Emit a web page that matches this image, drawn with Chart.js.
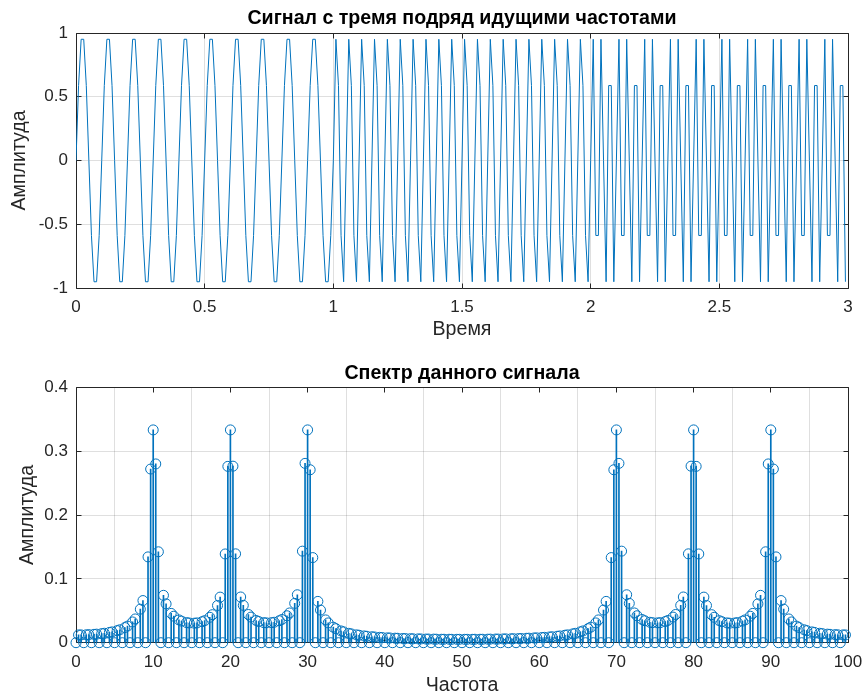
<!DOCTYPE html>
<html><head><meta charset="utf-8">
<script src="https://cdn.jsdelivr.net/npm/chart.js@4.4.1/dist/chart.umd.min.js"></script>
<style>
html,body{margin:0;padding:0;background:#fff;overflow:hidden;width:865px;height:696px;position:relative}
#c1{position:absolute;left:0;top:0}
#c2{position:absolute;left:0;top:345px}
</style></head><body>
<canvas id="c1" width="865" height="345"></canvas>
<canvas id="c2" width="865" height="360"></canvas>
<script>
// ---------- data ----------
const titleTop = 'Сигнал с тремя подряд идущими частотами';
const titleBottom = 'Спектр данного сигнала';
const xLabelTop = 'Время';
const xLabelBottom = 'Частота';
const yLabel = 'Амплитуда';

const timeTicks = [0, 0.5, 1, 1.5, 2, 2.5, 3];
const ampTicks = [-1, -0.5, 0, 0.5, 1];
const freqTicks = [0, 10, 20, 30, 40, 50, 60, 70, 80, 90, 100];
const specTicks = [0, 0.1, 0.2, 0.3, 0.4];

const timeSec = [
0,0.01,0.02,0.03,0.04,0.05,0.06,0.07,0.08,0.09,
0.1,0.11,0.12,0.13,0.14,0.15,0.16,0.17,0.18,0.19,
0.2,0.21,0.22,0.23,0.24,0.25,0.26,0.27,0.28,0.29,
0.3,0.31,0.32,0.33,0.34,0.35,0.36,0.37,0.38,0.39,
0.4,0.41,0.42,0.43,0.44,0.45,0.46,0.47,0.48,0.49,
0.5,0.51,0.52,0.53,0.54,0.55,0.56,0.57,0.58,0.59,
0.6,0.61,0.62,0.63,0.64,0.65,0.66,0.67,0.68,0.69,
0.7,0.71,0.72,0.73,0.74,0.75,0.76,0.77,0.78,0.79,
0.8,0.81,0.82,0.83,0.84,0.85,0.86,0.87,0.88,0.89,
0.9,0.91,0.92,0.93,0.94,0.95,0.96,0.97,0.98,0.99,
1,1.01,1.02,1.03,1.04,1.05,1.06,1.07,1.08,1.09,
1.1,1.11,1.12,1.13,1.14,1.15,1.16,1.17,1.18,1.19,
1.2,1.21,1.22,1.23,1.24,1.25,1.26,1.27,1.28,1.29,
1.3,1.31,1.32,1.33,1.34,1.35,1.36,1.37,1.38,1.39,
1.4,1.41,1.42,1.43,1.44,1.45,1.46,1.47,1.48,1.49,
1.5,1.51,1.52,1.53,1.54,1.55,1.56,1.57,1.58,1.59,
1.6,1.61,1.62,1.63,1.64,1.65,1.66,1.67,1.68,1.69,
1.7,1.71,1.72,1.73,1.74,1.75,1.76,1.77,1.78,1.79,
1.8,1.81,1.82,1.83,1.84,1.85,1.86,1.87,1.88,1.89,
1.9,1.91,1.92,1.93,1.94,1.95,1.96,1.97,1.98,1.99,
2,2.01,2.02,2.03,2.04,2.05,2.06,2.07,2.08,2.09,
2.1,2.11,2.12,2.13,2.14,2.15,2.16,2.17,2.18,2.19,
2.2,2.21,2.22,2.23,2.24,2.25,2.26,2.27,2.28,2.29,
2.3,2.31,2.32,2.33,2.34,2.35,2.36,2.37,2.38,2.39,
2.4,2.41,2.42,2.43,2.44,2.45,2.46,2.47,2.48,2.49,
2.5,2.51,2.52,2.53,2.54,2.55,2.56,2.57,2.58,2.59,
2.6,2.61,2.62,2.63,2.64,2.65,2.66,2.67,2.68,2.69,
2.7,2.71,2.72,2.73,2.74,2.75,2.76,2.77,2.78,2.79,
2.8,2.81,2.82,2.83,2.84,2.85,2.86,2.87,2.88,2.89,
2.9,2.91,2.92,2.93,2.94,2.95,2.96,2.97,2.98,2.99
];

const signal = [
0,0.588,0.951,0.951,0.588,0,-0.588,-0.951,-0.951,-0.588,
0,0.588,0.951,0.951,0.588,0,-0.588,-0.951,-0.951,-0.588,
0,0.588,0.951,0.951,0.588,0,-0.588,-0.951,-0.951,-0.588,
0,0.588,0.951,0.951,0.588,0,-0.588,-0.951,-0.951,-0.588,
0,0.588,0.951,0.951,0.588,0,-0.588,-0.951,-0.951,-0.588,
0,0.588,0.951,0.951,0.588,0,-0.588,-0.951,-0.951,-0.588,
0,0.588,0.951,0.951,0.588,0,-0.588,-0.951,-0.951,-0.588,
0,0.588,0.951,0.951,0.588,0,-0.588,-0.951,-0.951,-0.588,
0,0.588,0.951,0.951,0.588,0,-0.588,-0.951,-0.951,-0.588,
0,0.588,0.951,0.951,0.588,0,-0.588,-0.951,-0.951,-0.588,
0,0.951,0.588,-0.588,-0.951,0,0.951,0.588,-0.588,-0.951,
0,0.951,0.588,-0.588,-0.951,0,0.951,0.588,-0.588,-0.951,
0,0.951,0.588,-0.588,-0.951,0,0.951,0.588,-0.588,-0.951,
0,0.951,0.588,-0.588,-0.951,0,0.951,0.588,-0.588,-0.951,
0,0.951,0.588,-0.588,-0.951,0,0.951,0.588,-0.588,-0.951,
0,0.951,0.588,-0.588,-0.951,0,0.951,0.588,-0.588,-0.951,
0,0.951,0.588,-0.588,-0.951,0,0.951,0.588,-0.588,-0.951,
0,0.951,0.588,-0.588,-0.951,0,0.951,0.588,-0.588,-0.951,
0,0.951,0.588,-0.588,-0.951,0,0.951,0.588,-0.588,-0.951,
0,0.951,0.588,-0.588,-0.951,0,0.951,0.588,-0.588,-0.951,
0,0.951,-0.588,-0.588,0.951,0,-0.951,0.588,0.588,-0.951,
0,0.951,-0.588,-0.588,0.951,0,-0.951,0.588,0.588,-0.951,
0,0.951,-0.588,-0.588,0.951,0,-0.951,0.588,0.588,-0.951,
0,0.951,-0.588,-0.588,0.951,0,-0.951,0.588,0.588,-0.951,
0,0.951,-0.588,-0.588,0.951,0,-0.951,0.588,0.588,-0.951,
0,0.951,-0.588,-0.588,0.951,0,-0.951,0.588,0.588,-0.951,
0,0.951,-0.588,-0.588,0.951,0,-0.951,0.588,0.588,-0.951,
0,0.951,-0.588,-0.588,0.951,0,-0.951,0.588,0.588,-0.951,
0,0.951,-0.588,-0.588,0.951,0,-0.951,0.588,0.588,-0.951,
0,0.951,-0.588,-0.588,0.951,0,-0.951,0.588,0.588,-0.951
];

const freqHz = [
0,0.33,0.67,1,1.33,1.67,2,2.33,2.67,3,3.33,3.67,4,4.33,4.67,
5,5.33,5.67,6,6.33,6.67,7,7.33,7.67,8,8.33,8.67,9,9.33,9.67,
10,10.33,10.67,11,11.33,11.67,12,12.33,12.67,13,13.33,13.67,14,14.33,14.67,
15,15.33,15.67,16,16.33,16.67,17,17.33,17.67,18,18.33,18.67,19,19.33,19.67,
20,20.33,20.67,21,21.33,21.67,22,22.33,22.67,23,23.33,23.67,24,24.33,24.67,
25,25.33,25.67,26,26.33,26.67,27,27.33,27.67,28,28.33,28.67,29,29.33,29.67,
30,30.33,30.67,31,31.33,31.67,32,32.33,32.67,33,33.33,33.67,34,34.33,34.67,
35,35.33,35.67,36,36.33,36.67,37,37.33,37.67,38,38.33,38.67,39,39.33,39.67,
40,40.33,40.67,41,41.33,41.67,42,42.33,42.67,43,43.33,43.67,44,44.33,44.67,
45,45.33,45.67,46,46.33,46.67,47,47.33,47.67,48,48.33,48.67,49,49.33,49.67,
50,50.33,50.67,51,51.33,51.67,52,52.33,52.67,53,53.33,53.67,54,54.33,54.67,
55,55.33,55.67,56,56.33,56.67,57,57.33,57.67,58,58.33,58.67,59,59.33,59.67,
60,60.33,60.67,61,61.33,61.67,62,62.33,62.67,63,63.33,63.67,64,64.33,64.67,
65,65.33,65.67,66,66.33,66.67,67,67.33,67.67,68,68.33,68.67,69,69.33,69.67,
70,70.33,70.67,71,71.33,71.67,72,72.33,72.67,73,73.33,73.67,74,74.33,74.67,
75,75.33,75.67,76,76.33,76.67,77,77.33,77.67,78,78.33,78.67,79,79.33,79.67,
80,80.33,80.67,81,81.33,81.67,82,82.33,82.67,83,83.33,83.67,84,84.33,84.67,
85,85.33,85.67,86,86.33,86.67,87,87.33,87.67,88,88.33,88.67,89,89.33,89.67,
90,90.33,90.67,91,91.33,91.67,92,92.33,92.67,93,93.33,93.67,94,94.33,94.67,
95,95.33,95.67,96,96.33,96.67,97,97.33,97.67,98,98.33,98.67,99,99.33,99.67
];

const spectrum = [
0,0.0122,0.0122,0,0.0124,0.0126,0,0.0131,0.0134,0,0.0142,0.0148,0,0.0161,0.0169,
0,0.0189,0.0202,0,0.0237,0.0260,0,0.0325,0.0372,0,0.0525,0.0660,0,0.1344,0.2720,
0.3333,0.2800,0.1424,0,0.0742,0.0608,0,0.0459,0.0415,0,0.0357,0.0338,0,0.0315,0.0309,
0,0.0306,0.0310,0,0.0329,0.0345,0,0.0398,0.0439,0,0.0583,0.0714,0,0.1390,0.2762,
0.3333,0.2765,0.1392,0,0.0716,0.0585,0,0.0442,0.0401,0,0.0348,0.0332,0,0.0314,0.0311,
0,0.0314,0.0320,0,0.0344,0.0363,0,0.0422,0.0466,0,0.0616,0.0751,0,0.1434,0.2809,
0.3333,0.2709,0.1333,0,0.0647,0.0511,0,0.0357,0.0310,0,0.0243,0.0220,0,0.0184,0.0170,
0,0.0147,0.0138,0,0.0123,0.0117,0,0.0106,0.0101,0,0.0093,0.0090,0,0.0084,0.0081,
0,0.0076,0.0074,0,0.0071,0.0069,0,0.0066,0.0065,0,0.0063,0.0061,0,0.0060,0.0059,
0,0.0057,0.0057,0,0.0056,0.0055,0,0.0054,0.0054,0,0.0054,0.0053,0,0.0053,0.0053,
0,0.0053,0.0053,0,0.0053,0.0054,0,0.0054,0.0054,0,0.0055,0.0056,0,0.0057,0.0057,
0,0.0059,0.0060,0,0.0061,0.0063,0,0.0065,0.0066,0,0.0069,0.0071,0,0.0074,0.0076,
0,0.0081,0.0084,0,0.0090,0.0093,0,0.0101,0.0106,0,0.0117,0.0123,0,0.0138,0.0147,
0,0.0170,0.0184,0,0.0220,0.0243,0,0.0310,0.0357,0,0.0511,0.0647,0,0.1333,0.2709,
0.3333,0.2809,0.1434,0,0.0751,0.0616,0,0.0466,0.0422,0,0.0363,0.0344,0,0.0320,0.0314,
0,0.0311,0.0314,0,0.0332,0.0348,0,0.0401,0.0442,0,0.0585,0.0716,0,0.1392,0.2765,
0.3333,0.2762,0.1390,0,0.0714,0.0583,0,0.0439,0.0398,0,0.0345,0.0329,0,0.0310,0.0306,
0,0.0309,0.0315,0,0.0338,0.0357,0,0.0415,0.0459,0,0.0608,0.0742,0,0.1424,0.2800,
0.3333,0.2720,0.1344,0,0.0660,0.0525,0,0.0372,0.0325,0,0.0260,0.0237,0,0.0202,0.0189,
0,0.0169,0.0161,0,0.0148,0.0142,0,0.0134,0.0131,0,0.0126,0.0124,0,0.0122,0.0122
];

// ---------- styling ----------
const BLUE = '#0072BD';
const AXIS = '#262626';
const GRID = 'rgba(38,38,38,0.15)';
const FONT = '"Liberation Sans", Arial, Helvetica, sans-serif';
const TITLE_SIZE = 19.6;
const LABEL_SIZE = 19.6;
const TICK_SIZE = 17;

function align(p) { return Math.round(p - 0.5) + 0.5; }

const boxPlugin = {
  id: 'matlabBox',
  beforeDatasetsDraw(chart) {
    const {ctx, chartArea: a, scales: {x, y}} = chart;
    const L = align(a.left), R = align(a.right), T = align(a.top), B = align(a.bottom);
    const len = 5;
    ctx.save();
    ctx.strokeStyle = AXIS;
    ctx.lineWidth = 1;
    ctx.beginPath();
    ctx.rect(L, T, R - L, B - T);
    x.ticks.forEach(t => {
      const p = align(x.getPixelForValue(t.value));
      ctx.moveTo(p, B); ctx.lineTo(p, B - len);
      ctx.moveTo(p, T); ctx.lineTo(p, T + len);
    });
    y.ticks.forEach(t => {
      const p = align(y.getPixelForValue(t.value));
      ctx.moveTo(L, p); ctx.lineTo(L + len, p);
      ctx.moveTo(R, p); ctx.lineTo(R - len, p);
    });
    ctx.stroke();
    ctx.restore();
  }
};

function tickFmt(v) { return String(Math.round(v * 1000) / 1000); }

function axis(min, max, tickList, labelText, opts) {
  return {
    type: 'linear', min, max, offset: false,
    afterBuildTicks: s => { s.ticks = tickList.map(v => ({value: v})); },
    afterFit: s => {
      opts.fit(s);
      s.paddingLeft = 0; s.paddingRight = 0; s.paddingTop = 0; s.paddingBottom = 0;
    },
    grid: {color: GRID, lineWidth: 1, drawTicks: false},
    border: {display: false},
    ticks: {color: AXIS, font: {family: FONT, size: TICK_SIZE}, padding: opts.tickPad, maxRotation: 0, autoSkip: false, callback: tickFmt},
    title: {display: true, text: labelText, color: AXIS, font: {family: FONT, size: LABEL_SIZE, lineHeight: 1.2}, padding: opts.titlePad}
  };
}

function titleOpts(text, pad) {
  return {display: true, text, color: '#000', fullSize: false,
    font: {family: FONT, size: TITLE_SIZE, weight: 'bold', lineHeight: 1.2}, padding: pad};
}

Chart.defaults.animation = false;

new Chart(document.getElementById('c1'), {
  type: 'line',
  data: {
    datasets: [{
      data: timeSec.map((t, i) => ({x: t, y: signal[i]})),
      borderColor: BLUE, borderWidth: 1, pointRadius: 0, tension: 0, fill: false
    }]
  },
  options: {
    responsive: false, animation: false, devicePixelRatio: 1,
    layout: {padding: {left: 0, right: 17, top: 0, bottom: 0}},
    plugins: {
      legend: {display: false}, tooltip: {enabled: false},
      title: titleOpts(titleTop, {top: 7.2, bottom: 2.3})
    },
    scales: {
      x: axis(0, 3, timeTicks, xLabelTop, {fit: s => { s.height = 57; }, tickPad: 9.5, titlePad: {top: 0, bottom: 3.4}}),
      y: axis(-1, 1, ampTicks, yLabel, {fit: s => { s.width = 76; }, tickPad: 8, titlePad: {top: 8, bottom: 0}})
    }
  },
  plugins: [boxPlugin]
});

const specPoints = freqHz.map((f, i) => ({x: f, y: spectrum[i]}));

new Chart(document.getElementById('c2'), {
  type: 'scatter',
  data: {
    datasets: [
      {type: 'bar', data: specPoints, backgroundColor: BLUE, borderWidth: 0, barThickness: 1, order: 2},
      {type: 'scatter', data: specPoints, showLine: false, pointStyle: 'circle', pointRadius: 5,
       pointBorderWidth: 1, pointBorderColor: BLUE, pointBackgroundColor: 'rgba(0,0,0,0)', clip: false, order: 1}
    ]
  },
  options: {
    responsive: false, animation: false, devicePixelRatio: 1,
    layout: {padding: {left: 0, right: 17, top: 0, bottom: 0}},
    plugins: {
      legend: {display: false}, tooltip: {enabled: false},
      title: titleOpts(titleBottom, {top: 16.4, bottom: 2.4})
    },
    scales: {
      x: axis(0, 100, freqTicks, xLabelBottom, {fit: s => { s.height = 62.3; }, tickPad: 9, titlePad: {top: 0, bottom: 7.4}}),
      y: axis(0, 0.4, specTicks, yLabel, {fit: s => { s.width = 76; }, tickPad: 8, titlePad: {top: 16, bottom: 0}})
    }
  },
  plugins: [boxPlugin]
});
</script>
</body></html>
